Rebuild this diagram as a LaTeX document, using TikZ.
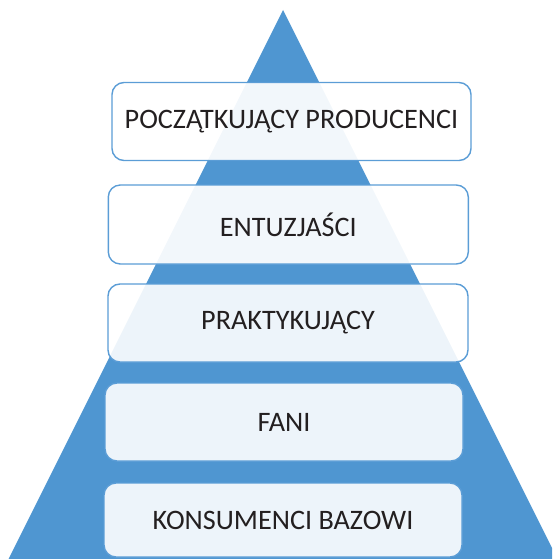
\documentclass[tikz,border=0pt]{standalone}
\usepackage{fontspec}
\setmainfont{Carlito}
\definecolor{pyrblue}{RGB}{79,150,209}
\definecolor{edgeblue}{RGB}{91,157,214}
\definecolor{inktext}{RGB}{35,31,32}
\tikzset{
  level/.style={draw=edgeblue, line width=1.4pt, rounded corners=12pt,
    fill=white, fill opacity=0.9, text opacity=1, text=inktext,
    inner sep=0pt, minimum width=359pt, minimum height=78pt,
    font=\fontsize{28.2}{33}\selectfont},
  levelhi/.style={level, fill opacity=0.93}
}
\begin{document}
\begin{tikzpicture}[x=1pt,y=-1pt]
  \useasboundingbox (0,0) rectangle (552,559);
  \clip (0,0) rectangle (552,559);
  % pyramid body
  \fill[pyrblue] (283,10) -- (557.5,559) -- (8.5,559) -- cycle;
  % tiers, top to bottom
  \node[levelhi] (producers) at (291.5,121.5) {POCZĄTKUJĄCY PRODUCENCI};
  \node[levelhi, minimum width=360pt, minimum height=79pt] (enthusiasts) at (288.3,224.5) {ENTUZJAŚCI};
  \node[level, minimum width=360pt] (practitioners) at (288,323) {PRAKTYKUJĄCY};
  \node[level, minimum width=358pt] (fans) at (284,422) {FANI};
  \node[level, minimum width=358pt, minimum height=74pt] (consumers) at (283,520) {KONSUMENCI BAZOWI};
\end{tikzpicture}
\end{document}
